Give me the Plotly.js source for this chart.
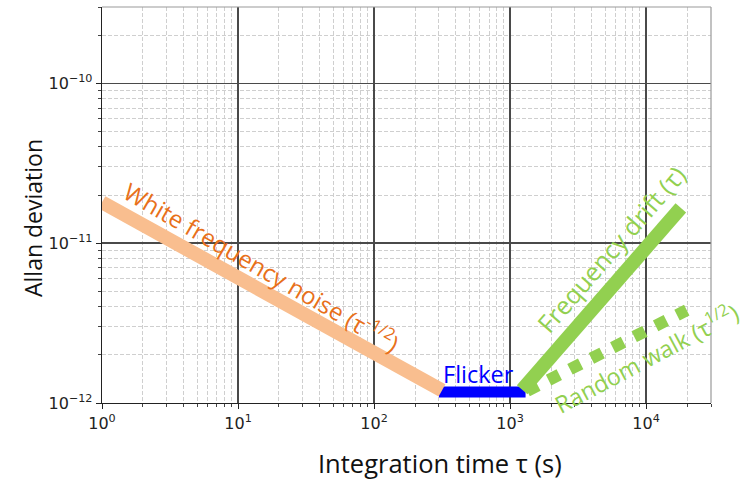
<!DOCTYPE html>
<html>
<head>
<meta charset="utf-8">
<script src="https://cdn.plot.ly/plotly-3.0.1.min.js"></script>
<style>
  html, body { margin: 0; padding: 0; background: #fff; }
  #chart { width: 745px; height: 482px; }
</style>
</head>
<body>
<div id="chart"></div>
<script>
// Allan deviation noise regimes vs. integration time (log-log)
const whiteTau   = [1, 316];
const whiteSigma = [1.8e-11, 1.2e-12];

const flickerTau   = [300, 1300];
const flickerSigma = [1.17e-12, 1.17e-12];

const driftTau   = [1227, 18000];
const driftSigma = [1.21e-12, 1.66e-11];

const walkTau   = [1335, 19900];
const walkSigma = [1.19e-12, 3.81e-12];

const xTickVals = [1, 10, 100, 1000, 10000];
const xTickText = ['10<sup>0</sup>', '10<sup>1</sup>', '10<sup>2</sup>', '10<sup>3</sup>', '10<sup>4</sup>'];
const yTickVals = [1e-12, 1e-11, 1e-10];
const yTickText = ['10<sup>\u221212</sup>', '10<sup>\u221211</sup>', '10<sup>\u221210</sup>'];

const labelText = ['White frequency noise (\u03c4<sup>-1/2</sup>)', 'Flicker', 'Frequency drift (\u03c4)', 'Random walk (\u03c4<sup>1/2</sup>)'];

// where each regime label sits, its angle, size and colour
const labelStyle = [
  { tau: 15.2, sigma: 7.18e-12, angle: 30,  size: 24,   color: '#E8701A' },
  { tau: 583,  sigma: 1.52e-12, angle: 0,   size: 23.5, color: '#0000FF' },
  { tau: 5520, sigma: 9.17e-12, angle: -49, size: 25,   color: '#92D050' },
  { tau: 9900, sigma: 1.93e-12, angle: -28, size: 23.5, color: '#92D050' }
];

function minorVals(lo, hi) {
  const v = [];
  for (let e = lo; e <= hi; e++) {
    for (let m = 2; m <= 9; m++) v.push(m * Math.pow(10, e));
  }
  return v;
}

const traces = [
  { x: flickerTau, y: flickerSigma, mode: 'lines', line: { color: '#0000FF', width: 11 }, hoverinfo: 'skip' },
  { x: whiteTau, y: whiteSigma, mode: 'lines', line: { color: '#F9BE8F', width: 14 }, hoverinfo: 'skip' },
  { x: walkTau, y: walkSigma, mode: 'lines', line: { color: '#92D050', width: 12, dash: 'dot' }, hoverinfo: 'skip' },
  { x: driftTau, y: driftSigma, mode: 'lines', line: { color: '#92D050', width: 14 }, hoverinfo: 'skip' }
];

const textFamily = 'Open Sans, Noto Sans, sans-serif';

const annotations = labelText.map((t, i) => ({
  x: Math.log10(labelStyle[i].tau), y: Math.log10(labelStyle[i].sigma),
  xref: 'x', yref: 'y', text: t, showarrow: false,
  xanchor: 'center', yanchor: 'middle',
  textangle: labelStyle[i].angle,
  font: { family: textFamily, size: labelStyle[i].size, color: labelStyle[i].color }
}));

const W = 745, H = 482, L = 102, R = 34, T = 7, B = 79;
const pw = W - L - R, ph = H - T - B;
const px2paperX = px => (px - L) / pw;
const px2paperY = py => (H - B - py) / ph;

annotations.push({
  x: px2paperX(440), y: px2paperY(482), xref: 'paper', yref: 'paper',
  xanchor: 'center', yanchor: 'bottom',
  text: 'Integration time \u03c4 (s)', showarrow: false,
  font: { family: textFamily, size: 25.5, color: '#111' }
});
annotations.push({
  x: px2paperX(33), y: px2paperY(218), xref: 'paper', yref: 'paper',
  xanchor: 'center', yanchor: 'middle',
  text: 'Allan deviation', showarrow: false, textangle: -90,
  font: { family: textFamily, size: 23, color: '#111' }
});

const axisFont = { family: 'DejaVu Sans, sans-serif', size: 16, color: '#222' };

const layout = {
  width: W, height: H,
  margin: { l: L, r: R, t: T, b: B },
  paper_bgcolor: '#fff', plot_bgcolor: '#fff',
  showlegend: false,
  xaxis: {
    type: 'log', range: [0, Math.log10(30000)],
    tickmode: 'array', tickvals: xTickVals, ticktext: xTickText,
    ticks: 'outside', ticklen: 5, tickcolor: '#222', tickfont: axisFont,
    showgrid: true, gridcolor: '#4a4a4a', gridwidth: 1.3,
    showline: true, linecolor: '#222', linewidth: 1.3,
    zeroline: false,
    minor: { tickmode: 'array', tickvals: minorVals(0, 4), ticks: 'outside', ticklen: 3, tickcolor: '#444',
             showgrid: true, gridcolor: '#cfcfcf', griddash: '4px,2px', gridwidth: 1 }
  },
  yaxis: {
    type: 'log', range: [-12, Math.log10(3e-10)],
    tickmode: 'array', tickvals: yTickVals, ticktext: yTickText,
    ticks: 'outside', ticklen: 5, tickcolor: '#222', tickfont: axisFont,
    showgrid: true, gridcolor: '#4a4a4a', gridwidth: 1.3,
    showline: true, linecolor: '#222', linewidth: 1.3,
    zeroline: false,
    minor: { tickmode: 'array', tickvals: minorVals(-12, -10), ticks: 'outside', ticklen: 3, tickcolor: '#444',
             showgrid: true, gridcolor: '#cfcfcf', griddash: '4px,2px', gridwidth: 1 }
  },
  shapes: [
    { type: 'line', xref: 'paper', yref: 'paper', x0: 0, x1: 1, y0: 1, y1: 1, line: { color: '#999', width: 1.2 } },
    { type: 'line', xref: 'paper', yref: 'paper', x0: 1, x1: 1, y0: 0, y1: 1, line: { color: '#999', width: 1.2 } }
  ],
  annotations: annotations
};

Plotly.newPlot('chart', traces, layout, { staticPlot: true, displayModeBar: false });
</script>
</body>
</html>
